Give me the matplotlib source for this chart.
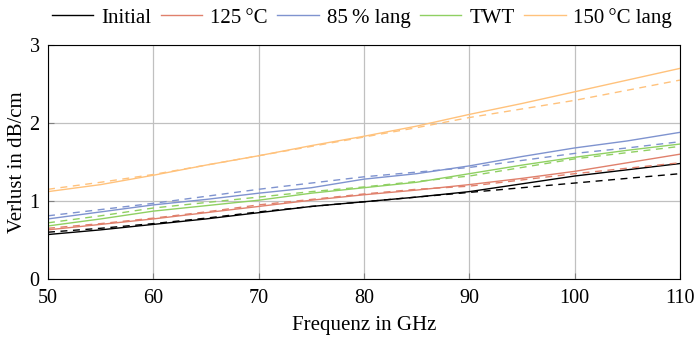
import matplotlib
matplotlib.use("Agg")
import matplotlib.pyplot as plt

plt.rcParams['font.family'] = ['Liberation Serif', 'DejaVu Serif']
plt.rcParams['mathtext.fontset'] = 'stix'

freq = [50, 55, 60, 65, 70, 75, 80, 85, 90, 95, 100, 105, 110]

initial_meas = [0.57, 0.63, 0.70, 0.77, 0.85, 0.93, 0.99, 1.05, 1.12, 1.22, 1.32, 1.40, 1.48]
initial_fit = [0.60, 0.65, 0.71, 0.78, 0.86, 0.93, 0.99, 1.05, 1.11, 1.17, 1.23, 1.29, 1.35]
t125_meas = [0.63, 0.70, 0.77, 0.85, 0.93, 1.01, 1.08, 1.14, 1.21, 1.29, 1.38, 1.49, 1.60]
t125_fit = [0.65, 0.71, 0.78, 0.86, 0.95, 1.02, 1.09, 1.15, 1.19, 1.27, 1.35, 1.42, 1.49]
twt_meas = [0.68, 0.77, 0.87, 0.94, 1.01, 1.10, 1.17, 1.24, 1.35, 1.46, 1.56, 1.65, 1.73]
twt_fit = [0.72, 0.81, 0.91, 0.98, 1.05, 1.12, 1.18, 1.25, 1.32, 1.43, 1.54, 1.62, 1.70]
h85_meas = [0.77, 0.86, 0.95, 1.02, 1.10, 1.17, 1.28, 1.35, 1.45, 1.57, 1.68, 1.77, 1.88]
h85_fit = [0.81, 0.89, 0.97, 1.06, 1.15, 1.23, 1.31, 1.37, 1.43, 1.52, 1.61, 1.68, 1.76]
t150_meas = [1.12, 1.21, 1.33, 1.46, 1.58, 1.71, 1.83, 1.96, 2.11, 2.25, 2.40, 2.55, 2.70]
t150_fit = [1.15, 1.24, 1.34, 1.46, 1.58, 1.70, 1.82, 1.94, 2.07, 2.18, 2.29, 2.42, 2.55]

labels = ['Initial', '125\u2009°C', '85\u2009% lang', 'TWT', '150\u2009°C lang']
colors = ['#000000', '#e0806c', '#7f93cf', '#8fd062', '#ffc27c']
meas = [initial_meas, t125_meas, h85_meas, twt_meas, t150_meas]
fits = [initial_fit, t125_fit, h85_fit, twt_fit, t150_fit]

fig = plt.figure(figsize=(7.0, 3.38), dpi=100)
ax = fig.add_axes([0.0686, 0.1746, 0.9028, 0.6923])

for lab, c, m, f in zip(labels, colors, meas, fits):
    ax.plot(freq, m, color=c, lw=1.0, label=lab)
    ax.plot(freq, f, color=c, lw=1.0, ls=(0, (5, 4)))

ax.set_xlim(50, 110)
ax.set_ylim(0, 3)
ax.set_xticks([50, 60, 70, 80, 90, 100, 110])
ax.set_yticks([0, 1, 2, 3])
ax.grid(True, color='#c0c0c0', lw=0.9)
ax.set_axisbelow(True)
ax.tick_params(direction='in', length=4, labelsize=14.5, color='#808080')
ax.tick_params(axis='x', pad=7)
ax.tick_params(axis='y', pad=6)
for s in ax.spines.values():
    s.set_color('black')
    s.set_linewidth(0.8)
ax.set_xlabel('Frequenz in GHz', fontsize=15, labelpad=6)
ax.set_ylabel('Verlust in dB/cm', fontsize=15, labelpad=2)

leg = ax.legend(loc='center', bbox_to_anchor=(0.517, 0.948), bbox_transform=fig.transFigure,
                ncol=5, frameon=False, fontsize=15, handlelength=2.0,
                handletextpad=0.38, columnspacing=0.45, borderpad=0.0)

fig.savefig('out.png', dpi=100)
